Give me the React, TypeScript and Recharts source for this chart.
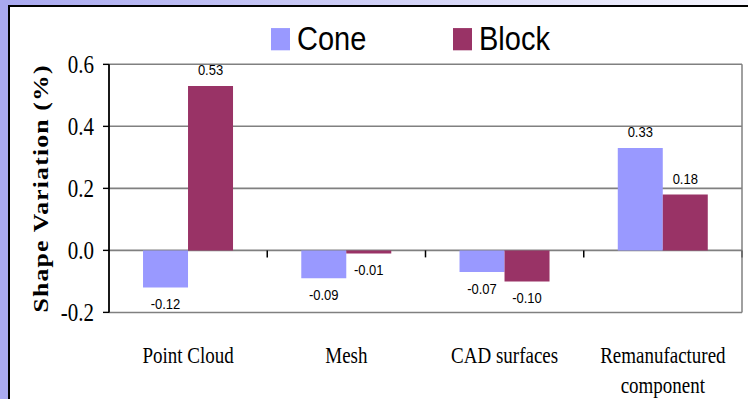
import React from 'react'
import {
  Bar,
  BarChart,
  CartesianGrid,
  LabelList,
  Legend,
  ReferenceLine,
  Text,
  XAxis,
  YAxis,
} from 'recharts'

const categories = ['Point Cloud', 'Mesh', 'CAD surfaces', 'Remanufactured component']
const coneValues = [-0.12, -0.09, -0.07, 0.33]
const blockValues = [0.53, -0.01, -0.1, 0.18]
const yTicks = [-0.2, 0, 0.2, 0.4, 0.6]
const seriesNames = ['Cone', 'Block']

const data = categories.map((name, i) => ({ name, cone: coneValues[i], block: blockValues[i] }))
// category boundaries on a hidden 0..4 axis, for the little ticks under the zero line
const boundaries = categories.map((_, i) => i + 1)

const CONE = '#9999ff'
const BLOCK = '#993366'
const LAVENDER = '#a9a9f0'
const SERIF = "'Liberation Serif', 'Times New Roman', serif"
const SANS = "'Liberation Sans', Arial, sans-serif"

// the source picture is stretched vertically, so the chart is drawn flat and scaled
const STRETCH = 1.17

const ValueLabel = (props: any) => {
  const { x, y, width, height, value } = props
  const top = Math.min(y, y + height)
  const bottom = Math.max(y, y + height)
  const cy = value >= 0 ? top - 14 : bottom + 14
  return (
    <text
      x={x + width / 2}
      y={cy}
      textAnchor="middle"
      dominantBaseline="central"
      fontFamily={SANS}
      fontSize={13}
      fill="#000"
    >
      {Number(value).toFixed(2)}
    </text>
  )
}

const CategoryTick = (props: any) => {
  const { x, y, payload } = props
  const style = { fontFamily: SERIF, fontSize: 19 }
  return (
    <Text
      x={x}
      y={y}
      width={140}
      textAnchor="middle"
      verticalAnchor="start"
      lineHeight="1.35em"
      style={style}
      fill="#000"
    >
      {payload.value}
    </Text>
  )
}

const renderLegend = (props: any) => {
  const entries = [...props.payload].sort(
    (a: any, b: any) => seriesNames.indexOf(a.value) - seriesNames.indexOf(b.value),
  )
  return (
    <div style={{ display: 'flex', fontFamily: SANS, fontSize: 29, lineHeight: '29px', color: '#000' }}>
      {entries.map((entry: any) => (
        <div key={entry.value} style={{ display: 'flex', alignItems: 'center', width: 182 }}>
          <span style={{ width: 19, height: 19, background: entry.color, marginRight: 7 }} />
          <span>{entry.value}</span>
        </div>
      ))}
    </div>
  )
}

const App: React.FC = () => {
  return (
    <div
      style={{
        position: 'absolute',
        left: 0,
        top: 0,
        width: 748,
        height: 399,
        overflow: 'hidden',
        background: '#fff',
      }}
    >
      <div
        style={{
          position: 'absolute',
          left: 0,
          top: 0,
          width: 748,
          height: 5,
          background: `linear-gradient(to right, ${LAVENDER}, #f6f6fd)`,
        }}
      />
      <div style={{ position: 'absolute', left: 0, top: 0, width: 8, height: 399, background: LAVENDER }} />
      <div
        style={{
          position: 'absolute',
          left: 8,
          top: 5,
          right: 0,
          bottom: 0,
          borderLeft: '2px solid #000',
          borderTop: '2px solid #000',
        }}
      />
      <div
        style={{
          position: 'absolute',
          left: 0,
          top: 0,
          transform: `scale(1, ${STRETCH})`,
          transformOrigin: '0 0',
        }}
      >
        <BarChart
          width={748}
          height={341}
          data={data}
          margin={{ top: 55, right: 0, bottom: 0, left: 0 }}
          barCategoryGap="21.5%"
          barGap={0}
        >
          <CartesianGrid vertical={false} stroke="#808080" strokeWidth={1.3} />
          <XAxis
            dataKey="name"
            axisLine={false}
            tickLine={false}
            tickSize={0}
            tickMargin={30}
            height={74}
            interval={0}
            tick={<CategoryTick />}
          />
          <XAxis
            xAxisId="num"
            type="number"
            dataKey="slot"
            domain={[0, categories.length]}
            allowDataOverflow
            hide
          />
          <YAxis
            domain={[-0.2, 0.6]}
            ticks={yTicks}
            width={109}
            axisLine={{ stroke: '#000', strokeWidth: 1.8 }}
            tickLine={{ stroke: '#000', strokeWidth: 1.2 }}
            tickSize={6}
            tickMargin={9}
            tickFormatter={(v: number) => v.toFixed(1)}
            tick={{ fill: '#000', fontSize: 21, fontFamily: SERIF }}
            label={{
              value: 'Shape Variation (%)',
              angle: -90,
              position: 'center',
              dx: -14,
              style: { fontFamily: SERIF, fontSize: 22, fontWeight: 'bold', letterSpacing: 1, fill: '#000' },
            }}
          />
          <YAxis
            yAxisId="right"
            orientation="right"
            domain={[-0.2, 0.6]}
            width={6}
            tick={false}
            tickLine={false}
            axisLine={{ stroke: '#808080', strokeWidth: 1.5 }}
          />
          <Legend
            verticalAlign="middle"
            align="center"
            layout="horizontal"
            wrapperStyle={{ top: 19, left: 271, width: 400, height: 29 }}
            content={renderLegend}
          />
          {boundaries.map((b) => (
            <ReferenceLine
              key={b}
              xAxisId="num"
              segment={[
                { x: b, y: 0 },
                { x: b, y: -0.0226 },
              ]}
              stroke="#000"
              strokeWidth={1.5}
              ifOverflow="visible"
            />
          ))}
          <Bar dataKey="cone" name="Cone" fill={CONE} isAnimationActive={false}>
            <LabelList dataKey="cone" content={ValueLabel} />
          </Bar>
          <Bar dataKey="block" name="Block" fill={BLOCK} isAnimationActive={false}>
            <LabelList dataKey="block" content={ValueLabel} />
          </Bar>
        </BarChart>
      </div>
    </div>
  )
}

export default App
